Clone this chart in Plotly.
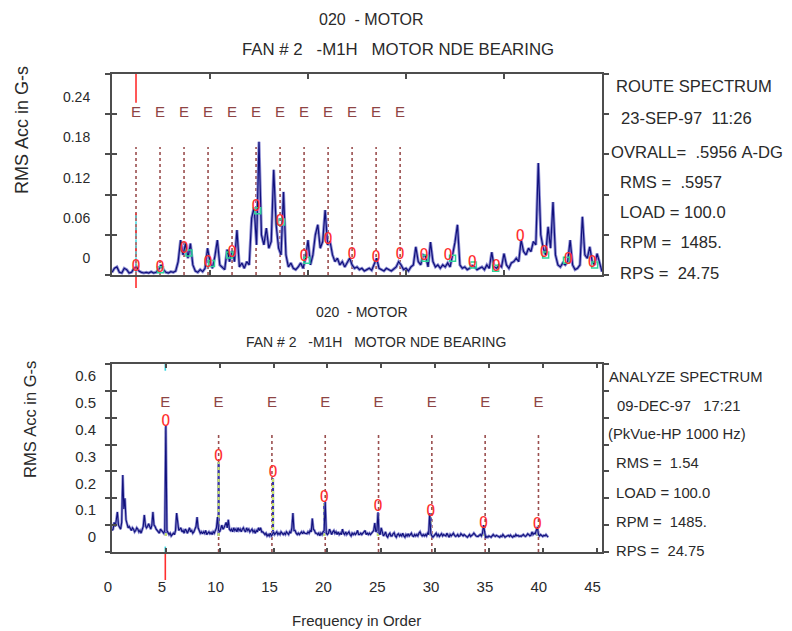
import plotly.graph_objects as go

W, H = 792, 631
FONT = "Liberation Sans, Arial, sans-serif"
TXT = "#2a2a2a"

# ---------------- data : route spectrum (top) ----------------
top_vals = [
    0.004, 0.010, 0.012, 0.004, 0.003, 0.010, 0.008, 0.003, 0.004, 0.010,
    0.012, 0.006, 0.004, 0.003, 0.004, 0.003, 0.005, 0.003, 0.004, 0.008,
    0.015, 0.008, 0.004, 0.003, 0.005, 0.004, 0.006, 0.020, 0.052, 0.030,
    0.047, 0.025, 0.047, 0.015, 0.006, 0.004, 0.008, 0.005, 0.010, 0.040,
    0.020, 0.010, 0.028, 0.052, 0.015, 0.012, 0.008, 0.038, 0.020, 0.036,
    0.020, 0.067, 0.012, 0.018, 0.010, 0.020, 0.015, 0.085, 0.101, 0.045,
    0.199, 0.060, 0.045, 0.070, 0.040, 0.050, 0.157, 0.075, 0.040, 0.030,
    0.124, 0.030, 0.012, 0.018, 0.010, 0.008, 0.012, 0.018, 0.010, 0.025,
    0.052, 0.015, 0.030, 0.060, 0.075, 0.040, 0.050, 0.097, 0.045, 0.050,
    0.030, 0.020, 0.025, 0.015, 0.020, 0.012, 0.018, 0.025, 0.015, 0.010,
    0.012, 0.008, 0.010, 0.006, 0.008, 0.010, 0.007, 0.015, 0.025, 0.010,
    0.008, 0.006, 0.010, 0.008, 0.006, 0.009, 0.012, 0.020, 0.015, 0.008,
    0.010, 0.006, 0.012, 0.015, 0.042, 0.020, 0.015, 0.030, 0.028, 0.012,
    0.049, 0.020, 0.012, 0.015, 0.010, 0.015, 0.012, 0.018, 0.012, 0.030,
    0.049, 0.075, 0.015, 0.010, 0.012, 0.008, 0.010, 0.014, 0.012, 0.008,
    0.010, 0.012, 0.008, 0.015, 0.010, 0.034, 0.012, 0.010, 0.015, 0.012,
    0.032, 0.015, 0.010, 0.018, 0.020, 0.025, 0.020, 0.052, 0.035, 0.030,
    0.040, 0.035, 0.050, 0.045, 0.167, 0.060, 0.040, 0.030, 0.072, 0.040,
    0.109, 0.030, 0.015, 0.012, 0.018, 0.015, 0.020, 0.052, 0.015, 0.008,
    0.010, 0.015, 0.087, 0.030, 0.025, 0.042, 0.020, 0.015, 0.032, 0.020,
    0.005,
]
top_step = 0.1
top_e_x = [0.98, 1.96, 2.94, 3.92, 4.90, 5.88, 6.86, 7.84, 8.82, 9.80, 10.78, 11.76]
top_o_x = [0.98, 1.96, 2.94, 3.92, 4.90, 5.88, 6.86, 7.84, 8.82, 9.80,
           10.78, 11.76, 12.74, 13.72, 14.70, 15.68, 16.66, 17.64, 18.62, 19.60]
top_o_y = [0.012, 0.010, 0.039, 0.018, 0.033, 0.101, 0.079, 0.027, 0.052, 0.030,
           0.025, 0.030, 0.028, 0.028, 0.018, 0.012, 0.057, 0.033, 0.022, 0.018]
top_g_x = [1.98, 3.14, 4.06, 4.80, 5.95, 6.92, 7.95, 12.78, 13.90, 14.75, 15.66, 17.70, 18.55, 19.70]
top_g_y = [0.008, 0.033, 0.017, 0.030, 0.096, 0.079, 0.022, 0.025, 0.025, 0.015, 0.010, 0.030, 0.022, 0.015]
top_y_ticks = [0, 0.06, 0.12, 0.18, 0.24, 0.30]
top_y_text = ["0", "0.06", "0.12", "0.18", "0.24", ""]
top_x_ticks = [4, 8, 12, 16]
top_cursor = 0.98
top_info = ["ROUTE SPECTRUM", "23-SEP-97  11:26", "OVRALL=  .5956 A-DG",
            "RMS =  .5957", "LOAD = 100.0", "RPM =  1485.", "RPS =  24.75"]

# ---------------- data : analyze spectrum (bottom) ----------------
low_vals = [
    0.080, 0.085, 0.110, 0.095, 0.120, 0.149, 0.100, 0.090, 0.085, 0.110,
    0.287, 0.160, 0.200, 0.120, 0.105, 0.090, 0.095, 0.085, 0.080, 0.090,
    0.085, 0.075, 0.080, 0.090, 0.085, 0.075, 0.080, 0.070, 0.085, 0.095,
    0.138, 0.100, 0.090, 0.095, 0.105, 0.090, 0.085, 0.100, 0.149, 0.100,
    0.095, 0.085, 0.080, 0.075, 0.070, 0.085, 0.080, 0.075, 0.070, 0.080,
    0.470, 0.080, 0.070, 0.065, 0.070, 0.060, 0.065, 0.070, 0.065, 0.080,
    0.145, 0.100, 0.080, 0.085, 0.090, 0.075, 0.080, 0.070, 0.085, 0.080,
    0.070, 0.080, 0.090, 0.075, 0.080, 0.070, 0.075, 0.085, 0.095, 0.130,
    0.090, 0.080, 0.070, 0.075, 0.068, 0.075, 0.070, 0.080, 0.065, 0.070,
    0.075, 0.068, 0.072, 0.065, 0.075, 0.070, 0.080, 0.090, 0.130, 0.080,
    0.075, 0.090, 0.100, 0.085, 0.090, 0.100, 0.110, 0.090, 0.120, 0.085,
    0.080, 0.085, 0.075, 0.090, 0.080, 0.085, 0.075, 0.090, 0.080, 0.085,
    0.075, 0.085, 0.090, 0.080, 0.075, 0.090, 0.080, 0.085, 0.075, 0.080,
    0.085, 0.075, 0.080, 0.070, 0.080, 0.075, 0.090, 0.080, 0.090, 0.075,
    0.075, 0.070, 0.065, 0.070, 0.060, 0.065, 0.060, 0.070, 0.060, 0.065,
    0.075, 0.065, 0.070, 0.075, 0.065, 0.070, 0.065, 0.075, 0.070, 0.065,
    0.070, 0.065, 0.075, 0.070, 0.065, 0.075, 0.070, 0.090, 0.145, 0.080,
    0.080, 0.070, 0.065, 0.070, 0.065, 0.070, 0.075, 0.068, 0.075, 0.070,
    0.070, 0.068, 0.075, 0.070, 0.080, 0.075, 0.125, 0.085, 0.080, 0.070,
    0.070, 0.065, 0.070, 0.060, 0.070, 0.065, 0.075, 0.080, 0.186, 0.070,
    0.065, 0.070, 0.085, 0.070, 0.065, 0.075, 0.080, 0.070, 0.075, 0.065,
    0.075, 0.065, 0.070, 0.065, 0.085, 0.070, 0.065, 0.075, 0.065, 0.070,
    0.075, 0.065, 0.060, 0.070, 0.065, 0.070, 0.065, 0.070, 0.080, 0.065,
    0.065, 0.070, 0.065, 0.070, 0.075, 0.080, 0.065, 0.070, 0.065, 0.070,
    0.065, 0.070, 0.075, 0.080, 0.108, 0.075, 0.080, 0.145, 0.070, 0.065,
    0.090, 0.070, 0.060, 0.065, 0.075, 0.060, 0.055, 0.065, 0.070, 0.060,
    0.060, 0.068, 0.072, 0.060, 0.055, 0.065, 0.068, 0.060, 0.065, 0.060,
    0.070, 0.060, 0.055, 0.065, 0.060, 0.068, 0.060, 0.065, 0.070, 0.060,
    0.058, 0.065, 0.060, 0.065, 0.060, 0.070, 0.075, 0.065, 0.060, 0.065,
    0.060, 0.065, 0.060, 0.070, 0.065, 0.145, 0.070, 0.060, 0.055, 0.060,
    0.065, 0.070, 0.060, 0.065, 0.058, 0.065, 0.068, 0.060, 0.065, 0.062,
    0.060, 0.070, 0.062, 0.055, 0.065, 0.060, 0.065, 0.070, 0.062, 0.058,
    0.060, 0.065, 0.058, 0.060, 0.068, 0.062, 0.060, 0.065, 0.060, 0.058,
    0.055, 0.060, 0.065, 0.058, 0.060, 0.065, 0.070, 0.062, 0.060, 0.058,
    0.058, 0.062, 0.065, 0.060, 0.070, 0.100, 0.065, 0.052, 0.058, 0.055,
    0.060, 0.058, 0.055, 0.060, 0.065, 0.060, 0.058, 0.062, 0.060, 0.055,
    0.055, 0.060, 0.058, 0.065, 0.060, 0.055, 0.058, 0.060, 0.062, 0.058,
    0.063, 0.058, 0.055, 0.060, 0.058, 0.065, 0.060, 0.062, 0.058, 0.060,
    0.058, 0.062, 0.065, 0.060, 0.058, 0.062, 0.068, 0.065, 0.060, 0.062,
    0.075, 0.065, 0.070, 0.068, 0.085, 0.093, 0.065, 0.060, 0.065, 0.062,
    0.058, 0.062, 0.060, 0.065, 0.058, 0.055,
]
low_step = 0.1
low_e_x = [4.95, 9.90, 14.85, 19.80, 24.75, 29.70, 34.65, 39.60]
low_o_x = [5.0, 9.9, 14.95, 19.7, 24.7, 29.6, 34.5, 39.5]
low_o_y = [0.484, 0.354, 0.294, 0.201, 0.168, 0.149, 0.104, 0.100]
low_y_ticks = [0, 0.1, 0.2, 0.3, 0.4, 0.5, 0.6, 0.7]
low_y_text = ["0", "0.1", "0.2", "0.3", "0.4", "0.5", "0.6", ""]
low_x_ticks = [0, 5, 10, 15, 20, 25, 30, 35, 40, 45]
low_cursor = 4.95
low_info = ["ANALYZE SPECTRUM", "09-DEC-97   17:21", "(PkVue-HP 1000 Hz)",
            "RMS =  1.54", "LOAD = 100.0", "RPM =  1485.", "RPS =  24.75"]

title_top = ["020  - MOTOR", "FAN # 2   -M1H   MOTOR NDE BEARING"]
title_low = ["020  - MOTOR", "FAN # 2   -M1H   MOTOR NDE BEARING"]
y_title = "RMS Acc in G-s"
x_title = "Frequency in Order"

# ---------------- helpers ----------------
def px(xp):
    return xp / W

def py(yp):
    return 1 - yp / H

def nb(s):
    return s.replace(" ", "\u00a0")

def vsegs(xs, y0, y1):
    X, Y = [], []
    for i, x in enumerate(xs):
        a = y0[i] if isinstance(y0, list) else y0
        b = y1[i] if isinstance(y1, list) else y1
        X += [x, x, None]
        Y += [a, b, None]
    return X, Y

NAVY = "#10107c"
HALO = "#8d8dd2"
MAROON = "#9a4f4f"
ELAB = "#8e4444"
RED = "#ff2e2e"
GREEN = "#2fd39a"
YGREEN = "#c6e36a"
CYAN = "#33d6e0"

fig = go.Figure()

def add(tr):
    tr.update(showlegend=False, hoverinfo="skip")
    fig.add_trace(tr)

OFONT = dict(family="DejaVu Sans Mono", size=15, color=RED)

# ===== top panel =====
tx = [round(i * top_step, 2) for i in range(len(top_vals))]
X, Y = vsegs(top_e_x, 0, 0.191)
add(go.Scatter(x=X, y=Y, mode="lines", line=dict(color=MAROON, width=1.6, dash="dot"), xaxis="x", yaxis="y"))
add(go.Scatter(x=tx, y=top_vals, mode="lines", line=dict(color=HALO, width=3.0), xaxis="x", yaxis="y"))
add(go.Scatter(x=tx, y=top_vals, mode="lines", line=dict(color=NAVY, width=1.2), xaxis="x", yaxis="y"))
add(go.Scatter(x=top_e_x, y=[0.242] * len(top_e_x), mode="text", text=["E"] * len(top_e_x),
               textfont=dict(family=FONT, size=15, color=ELAB), xaxis="x", yaxis="y"))
add(go.Scatter(x=[top_cursor, top_cursor], y=[0.257, 0.30], mode="lines",
               line=dict(color=RED, width=1.6), xaxis="x", yaxis="y"))
add(go.Scatter(x=[top_cursor, top_cursor], y=[0.004, 0.092], mode="lines",
               line=dict(color=RED, width=1.4, dash="dash"), xaxis="x", yaxis="y"))
add(go.Scatter(x=[top_cursor, top_cursor], y=[0.004, 0.092], mode="lines",
               line=dict(color=CYAN, width=1.4, dash="dot"), xaxis="x", yaxis="y"))
add(go.Scatter(x=top_g_x, y=top_g_y, mode="markers",
               marker=dict(symbol="square-open", size=6, color=GREEN, line=dict(width=1.5)),
               xaxis="x", yaxis="y"))
add(go.Scatter(x=top_o_x, y=top_o_y, mode="text", text=["O"] * len(top_o_x),
               textfont=OFONT, xaxis="x", yaxis="y"))

# ===== bottom panel =====
lx = [round(i * low_step, 2) for i in range(len(low_vals))]
X, Y = vsegs(low_e_x[1:], 0, 0.447)
add(go.Scatter(x=X, y=Y, mode="lines", line=dict(color=MAROON, width=1.6, dash="dot"), xaxis="x2", yaxis="y2"))
X, Y = vsegs(low_o_x, 0.06, [v - 0.02 for v in low_o_y])
add(go.Scatter(x=X, y=Y, mode="lines", line=dict(color="#3434a8", width=2.2), xaxis="x2", yaxis="y2"))
add(go.Scatter(x=X, y=Y, mode="lines", line=dict(color=YGREEN, width=2.2, dash="dot"), xaxis="x2", yaxis="y2"))
add(go.Scatter(x=lx, y=low_vals, mode="lines", line=dict(color=HALO, width=2.6), xaxis="x2", yaxis="y2"))
add(go.Scatter(x=lx, y=low_vals, mode="lines", line=dict(color=NAVY, width=1.1), xaxis="x2", yaxis="y2"))
add(go.Scatter(x=low_e_x, y=[0.555] * len(low_e_x), mode="text", text=["E"] * len(low_e_x),
               textfont=dict(family=FONT, size=15, color=ELAB), xaxis="x2", yaxis="y2"))
X, Y = vsegs([low_cursor, low_cursor], [0.675, 0.0], [0.70, 0.02])
add(go.Scatter(x=X, y=Y, mode="lines", line=dict(color=CYAN, width=1.6), xaxis="x2", yaxis="y2"))
add(go.Scatter(x=low_o_x, y=low_o_y, mode="text", text=["O"] * len(low_o_x),
               textfont=OFONT, xaxis="x2", yaxis="y2"))

# invisible traces so overlay axes exist
add(go.Scatter(x=[-5], y=[-5], mode="markers", opacity=0, xaxis="x", yaxis="y3"))
add(go.Scatter(x=[-5], y=[-5], mode="markers", opacity=0, xaxis="x2", yaxis="y4"))

XDOM = [px(112), px(602)]
TOPDOM = [py(275), py(74)]
LOWDOM = [py(552), py(364)]
LINE = "#4d4d4d"

common = dict(showgrid=False, zeroline=False, showline=True, linecolor=LINE, linewidth=2,
              tickcolor=LINE, tickwidth=1.5, automargin=False)

layout = dict(
    width=W, height=H, margin=dict(l=0, r=0, t=0, b=0, autoexpand=False),
    paper_bgcolor="white", plot_bgcolor="white", showlegend=False,
    font=dict(family=FONT, color=TXT),
    xaxis=dict(domain=XDOM, range=[0, 20], anchor="y", tickmode="array", tickvals=top_x_ticks,
               ticks="inside", ticklen=5, mirror="ticks", showticklabels=False, **common),
    yaxis=dict(domain=TOPDOM, range=[0, 0.30], anchor="x", tickmode="array", tickvals=top_y_ticks,
               ticktext=top_y_text, ticks="outside", ticklen=5, mirror="ticks",
               ticklabelshift=-17, ticklabelstandoff=12, tickfont=dict(size=14, color=TXT), **common),
    yaxis3=dict(overlaying="y", anchor="x", range=[0, 0.30], tickmode="array", tickvals=top_y_ticks,
                ticks="inside", ticklen=5, showticklabels=False, showline=False, showgrid=False,
                zeroline=False, tickcolor=LINE, tickwidth=1.5, automargin=False),
    xaxis2=dict(domain=XDOM, range=[0, 45.5], anchor="y2", tickmode="array", tickvals=low_x_ticks,
                ticks="inside", ticklen=4, mirror="ticks", ticklabelstandoff=20, ticklabelshift=-4,
                tickfont=dict(size=15, color=TXT), **common),
    yaxis2=dict(domain=LOWDOM, range=[0, 0.70], anchor="x2", tickmode="array", tickvals=low_y_ticks,
                ticktext=low_y_text, ticks="outside", ticklen=5, mirror="ticks",
                ticklabelshift=-15, ticklabelstandoff=6, tickfont=dict(size=15, color=TXT), **common),
    yaxis4=dict(overlaying="y2", anchor="x2", range=[0, 0.70], tickmode="array", tickvals=low_y_ticks,
                ticks="inside", ticklen=5, showticklabels=False, showline=False, showgrid=False,
                zeroline=False, tickcolor=LINE, tickwidth=1.5, automargin=False),
)
fig.update_layout(**layout)

ann = []
def text(s, x, y, size, xanchor="left", angle=0):
    ann.append(dict(text=nb(s), x=px(x), y=py(y), xref="paper", yref="paper", showarrow=False,
                    xanchor=xanchor, yanchor="middle", textangle=angle,
                    font=dict(family=FONT, size=size, color=TXT)))

text(title_top[0], 371, 20, 16, "center")
text(title_top[1], 398, 50, 16.8, "center")
text(title_low[0], 362, 312, 14, "center")
text(title_low[1], 376, 342, 14, "center")
text(y_title, 22, 130, 18, "center", -90)
text(y_title, 30, 420, 16.5, "center", -90)
text(x_title, 356, 620, 15, "center")

top_info_pos = [(614, 87), (619, 119), (609, 152), (618, 182), (618, 212), (618, 243), (618, 273)]
low_info_pos = [(607, 377), (615, 406), (606, 434), (614, 463), (614, 493), (614, 522), (614, 551)]
for s, (x, y) in zip(top_info, top_info_pos):
    text(s, x, y, 16.6)
for s, (x, y) in zip(low_info, low_info_pos):
    text(s, x, y, 14.8)

fig.update_layout(annotations=ann)

# cursor ticks below the axes
fig.add_shape(type="line", xref="x", yref="paper", x0=top_cursor, x1=top_cursor,
              y0=py(277), y1=py(288), line=dict(color=RED, width=1.6))
fig.add_shape(type="line", xref="x2", yref="paper", x0=low_cursor, x1=low_cursor,
              y0=py(554), y1=py(580), line=dict(color=RED, width=1.6))

fig.write_html("out.html", config={"displayModeBar": False},
               post_script="document.body.style.margin='0px';document.body.style.padding='0px';"
                           "document.body.style.overflow='hidden';")
